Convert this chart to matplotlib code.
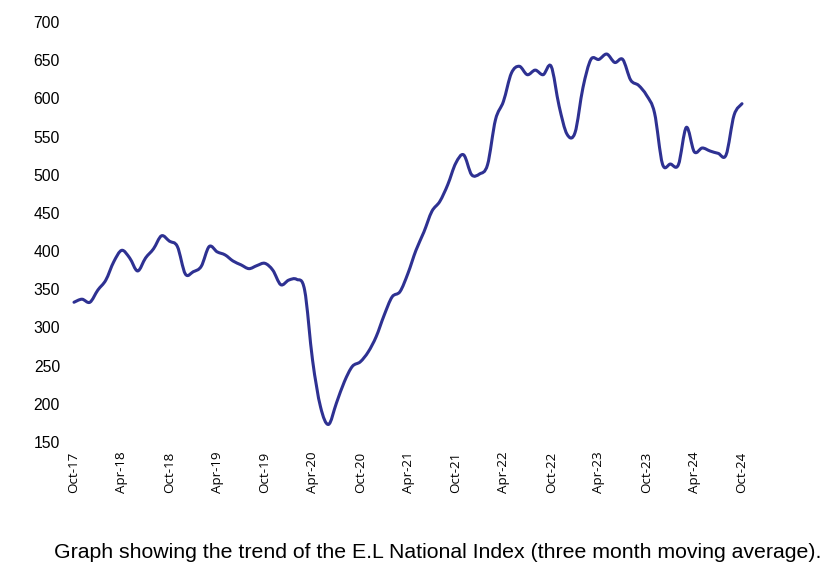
import matplotlib
matplotlib.use("Agg")
import matplotlib.pyplot as plt
from matplotlib.path import Path
from matplotlib.patches import PathPatch
import pandas as pd

# Monthly three-month moving average, Oct-2017 .. Oct-2024
months = pd.date_range("2017-10-01", "2024-10-01", freq="MS")
index_values = [
    333, 337, 333, 349, 362, 386, 401, 391, 374, 391, 403, 420,   # Oct17-Sep18
    413, 406, 370, 373, 380, 406, 399, 395, 387, 382, 377, 381,   # Oct18-Sep19
    384, 375, 356, 362, 363, 349, 257, 196, 173, 201, 229, 249,   # Oct19-Sep20
    255, 268, 288, 316, 340, 347, 371, 401, 425, 452, 465, 487,   # Oct20-Sep21
    515, 526, 500, 501, 513, 572, 596, 633, 642, 631, 637, 631,   # Oct21-Sep22
    642, 590, 553, 555, 614, 651, 651, 658, 647, 651, 624, 617,   # Oct22-Sep23
    604, 581, 514, 514, 513, 562, 530, 535, 531, 528, 526, 578,   # Oct23-Sep24
    593,                                                          # Oct24
]
tick_labels = ["Oct-17", "Apr-18", "Oct-18", "Apr-19", "Oct-19", "Apr-20",
               "Oct-20", "Apr-21", "Oct-21", "Apr-22", "Oct-22", "Apr-23",
               "Oct-23", "Apr-24", "Oct-24"]
y_ticks = list(range(150, 701, 50))
caption = ("Graph showing the trend of the E.L National Index "
           "(three month moving average).")

LINE_COLOR = "#2E3192"

fig = plt.figure(figsize=(8.3, 5.86), dpi=100)
ax = fig.add_axes([74 / 830, (586 - 442) / 586, 668 / 830, 420 / 586])

x = list(range(len(index_values)))
y = index_values

# Smoothed line (spreadsheet-style smoothing: cubic Bezier segments through
# every data point, drawn in data coordinates)
verts = [(x[0], y[0])]
codes = [Path.MOVETO]
n = len(x)
for i in range(n - 1):
    p0 = (x[max(i - 1, 0)], y[max(i - 1, 0)])
    p1 = (x[i], y[i])
    p2 = (x[i + 1], y[i + 1])
    p3 = (x[min(i + 2, n - 1)], y[min(i + 2, n - 1)])
    c1 = (p1[0] + (p2[0] - p0[0]) / 6, p1[1] + (p2[1] - p0[1]) / 6)
    c2 = (p2[0] - (p3[0] - p1[0]) / 6, p2[1] - (p3[1] - p1[1]) / 6)
    verts += [c1, c2, p2]
    codes += [Path.CURVE4, Path.CURVE4, Path.CURVE4]
ax.add_patch(PathPatch(Path(verts, codes), facecolor="none",
                       edgecolor=LINE_COLOR, linewidth=2.2,
                       joinstyle="round", capstyle="round",
                       transform=ax.transData, clip_on=False))

ax.set_xlim(0, n - 1)
ax.set_ylim(150, 700)
ax.set_yticks(y_ticks)
ax.set_yticklabels([str(v) for v in y_ticks], fontfamily="Liberation Sans",
                   fontsize=11.3)
ax.set_xticks(list(range(0, n, 6)))
ax.set_xticklabels(tick_labels, rotation=90, fontfamily="Open Sans",
                   fontsize=9.6)
ax.tick_params(axis="y", length=0, pad=10)
ax.tick_params(axis="x", length=0, pad=7)
for s in ax.spines.values():
    s.set_visible(False)

fig.text(437.5 / 830, 1 - 553 / 586, caption, ha="center", va="center",
         fontfamily="Liberation Sans", fontsize=15.3)

fig.savefig("out.png", dpi=100, facecolor="white")
